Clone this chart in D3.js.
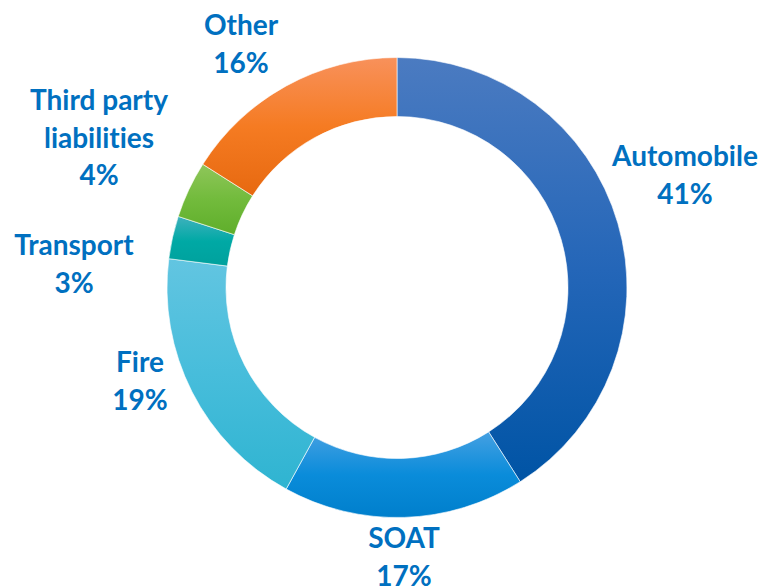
<!DOCTYPE html>
<html>
<head>
<meta charset="utf-8">
<script src="https://cdn.jsdelivr.net/npm/d3@7"></script>
<style>
  body { margin: 0; background: #fff; }
  text { font-family: Lato, "Open Sans", sans-serif; font-weight: bold; font-variant-ligatures: none; }
</style>
</head>
<body>
<div id="chart"></div>
<script>
// Data (clockwise from 12 o'clock)
var categories = ["Automobile", "SOAT", "Fire", "Transport", "Third party liabilities", "Other"];
var shares = [41, 17, 19, 3, 4, 16];
var labelLines = [["Automobile"], ["SOAT"], ["Fire"], ["Transport"], ["Third party", "liabilities"], ["Other"]];

// Gradient stops per slice (top, middle, bottom)
var gradients = [
  ["#4b7bc1", "#2466b8", "#0054a5"],
  ["#45a0e2", "#0a8cda", "#007fcc"],
  ["#62c5e1", "#47bddb", "#2fb4d1"],
  ["#3fb1bd", "#00a9a5", "#00a19d"],
  ["#8fc65a", "#72bb3c", "#5fae2b"],
  ["#f8915b", "#f57b22", "#e76910"]
];

// Label anchors: centre x, first baseline y
var labelPos = [[685, 166], [404, 548], [140, 372], [74, 255], [99, 110], [241, 35]];

var w = 765;
var h = 586;
var cx = 397, cy = 287.5;
var outerR = 230, innerR = 171;
var lineH = 37.5;

var svg = d3.select("#chart")
  .append("svg")
  .attr("width", w)
  .attr("height", h);

var defs = svg.append("defs");
gradients.forEach(function(g, i) {
  var lg = defs.append("linearGradient")
    .attr("id", "grad" + i)
    .attr("x1", 0).attr("y1", 0)
    .attr("x2", 0).attr("y2", 1);
  lg.append("stop").attr("offset", "0%").attr("stop-color", g[0]);
  lg.append("stop").attr("offset", "50%").attr("stop-color", g[1]);
  lg.append("stop").attr("offset", "100%").attr("stop-color", g[2]);
});

var pie = d3.pie().sort(null).value(function(d) { return d; });
var arc = d3.arc().innerRadius(innerR).outerRadius(outerR);

var g = svg.append("g")
  .attr("transform", "translate(" + cx + "," + cy + ")");

g.selectAll("path")
  .data(pie(shares))
  .enter()
  .append("path")
  .attr("d", arc)
  .attr("fill", function(d, i) { return "url(#grad" + i + ")"; })
  .attr("stroke", "#ffffff")
  .attr("stroke-width", 0.6);

// Labels: name lines then percentage
var labels = svg.selectAll(".slice-label")
  .data(categories)
  .enter()
  .append("text")
  .attr("class", "slice-label")
  .attr("text-anchor", "middle")
  .attr("fill", "#0070c0")
  .style("font-size", "28px");

labels.each(function(d, i) {
  var t = d3.select(this);
  var lines = labelLines[i].concat([shares[i] + "%"]);
  lines.forEach(function(line, j) {
    t.append("tspan")
      .attr("x", labelPos[i][0])
      .attr("y", labelPos[i][1] + j * lineH)
      .text(line);
  });
});
</script>
</body>
</html>
